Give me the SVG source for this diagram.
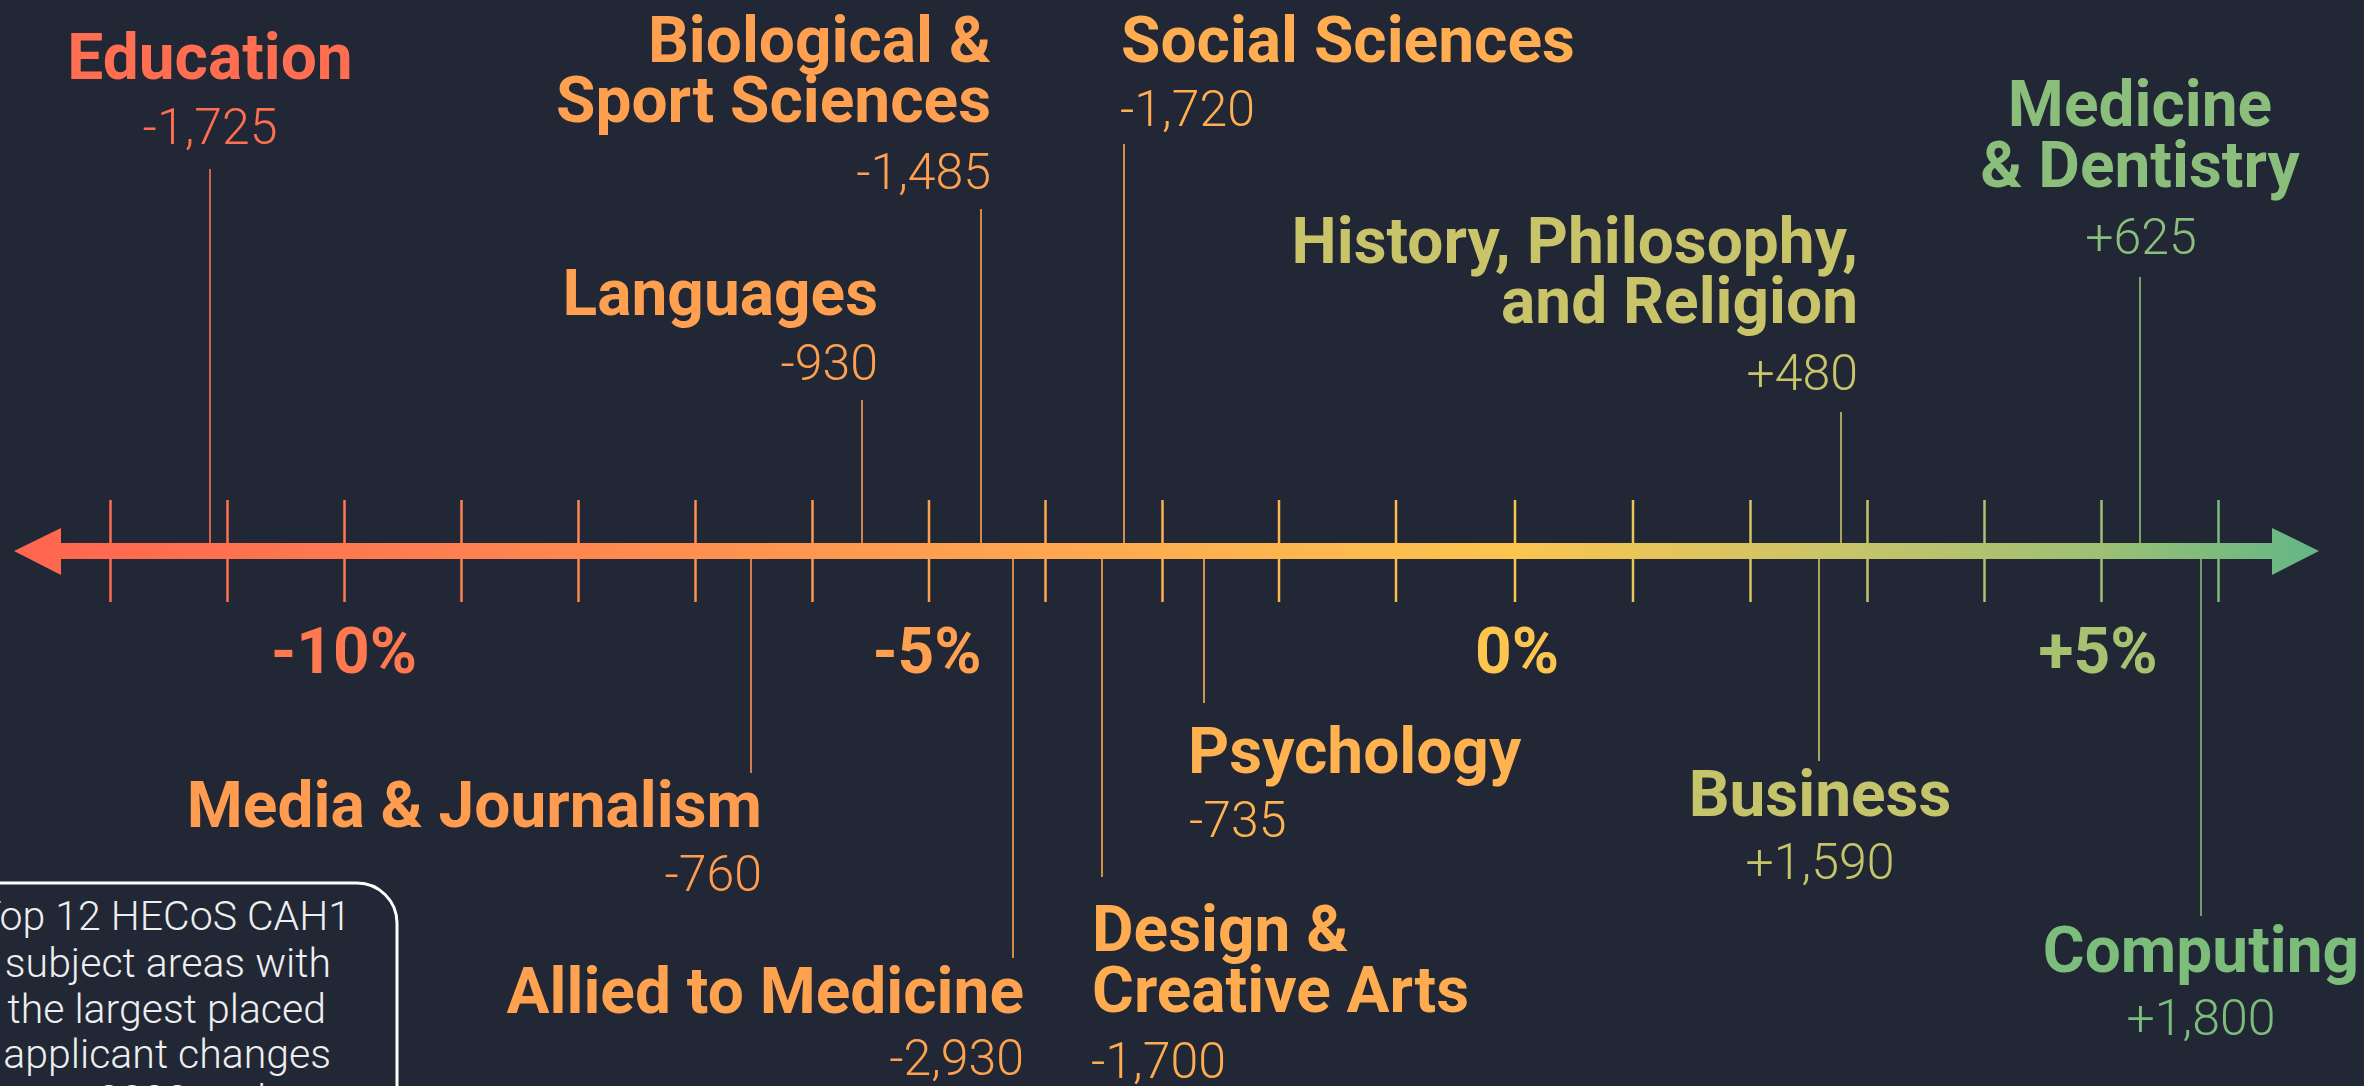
<svg xmlns="http://www.w3.org/2000/svg" width="2364" height="1086" viewBox="0 0 2364 1086">
  <defs>
    <linearGradient id="axisGrad" gradientUnits="userSpaceOnUse" x1="14" y1="0" x2="2319" y2="0">
      <stop offset="0" stop-color="#FF6550"/>
      <stop offset="0.143" stop-color="#FF7850"/>
      <stop offset="0.397" stop-color="#FF9F50"/>
      <stop offset="0.651" stop-color="#FCC54E"/>
      <stop offset="0.793" stop-color="#C9C46A"/>
      <stop offset="0.905" stop-color="#9DC074"/>
      <stop offset="1" stop-color="#63B685"/>
    </linearGradient>
    <style>
      .lbl { font-family: Roboto, "Liberation Sans", "DejaVu Sans", sans-serif; font-weight: 700; font-size: 64px; }
      .val { font-family: Roboto, "Liberation Sans", "DejaVu Sans", sans-serif; font-weight: 300; font-size: 50px; }
      .pct { font-family: Roboto, "Liberation Sans", "DejaVu Sans", sans-serif; font-weight: 700; font-size: 64px; text-anchor: middle; }
      .legend { font-family: Roboto, "Liberation Sans", "DejaVu Sans", sans-serif; font-weight: 300; font-size: 41px; fill: #EEEEEE; text-anchor: end; }
      .tick { stroke: url(#axisGrad); stroke-width: 2.5; }
      .lead { stroke: url(#axisGrad); stroke-width: 1.6; fill: none; }
      .mid { text-anchor: middle; }
      .end { text-anchor: end; }
      .start { text-anchor: start; }
    </style>
  </defs>

  <rect x="0" y="0" width="2364" height="1086" fill="#212735"/>

  <!-- Axis -->
  <g id="axis">
    <rect x="60" y="543" width="2213" height="16" fill="url(#axisGrad)"/>
    <polygon points="14,551 61,528 61,575" fill="url(#axisGrad)"/>
    <polygon points="2319,551 2272,528 2272,575" fill="url(#axisGrad)"/>
    <g id="ticks">
      <line class="tick" x1="110.5" y1="500" x2="110.5" y2="602"/>
      <line class="tick" x1="227.5" y1="500" x2="227.5" y2="602"/>
      <line class="tick" x1="344.5" y1="500" x2="344.5" y2="602"/>
      <line class="tick" x1="461.5" y1="500" x2="461.5" y2="602"/>
      <line class="tick" x1="578.5" y1="500" x2="578.5" y2="602"/>
      <line class="tick" x1="695.5" y1="500" x2="695.5" y2="602"/>
      <line class="tick" x1="812.5" y1="500" x2="812.5" y2="602"/>
      <line class="tick" x1="929" y1="500" x2="929" y2="602"/>
      <line class="tick" x1="1045.5" y1="500" x2="1045.5" y2="602"/>
      <line class="tick" x1="1162.5" y1="500" x2="1162.5" y2="602"/>
      <line class="tick" x1="1279" y1="500" x2="1279" y2="602"/>
      <line class="tick" x1="1396" y1="500" x2="1396" y2="602"/>
      <line class="tick" x1="1515" y1="500" x2="1515" y2="602"/>
      <line class="tick" x1="1633" y1="500" x2="1633" y2="602"/>
      <line class="tick" x1="1750.5" y1="500" x2="1750.5" y2="602"/>
      <line class="tick" x1="1867.5" y1="500" x2="1867.5" y2="602"/>
      <line class="tick" x1="1984.5" y1="500" x2="1984.5" y2="602"/>
      <line class="tick" x1="2101.5" y1="500" x2="2101.5" y2="602"/>
      <line class="tick" x1="2218.5" y1="500" x2="2218.5" y2="602"/>
    </g>
    <g id="percent-labels">
      <text class="pct" x="344" y="673" fill="#FF7850">-10%</text>
      <text class="pct" x="927" y="673" fill="#FF9F50">-5%</text>
      <text class="pct" x="1517" y="673" fill="#FCC54E">0%</text>
      <text class="pct" x="2098" y="673" fill="#A6C271">+5%</text>
    </g>
  </g>

  <!-- Connectors (leader lines) -->
  <g id="connectors">
    <line class="lead" x1="210" y1="169" x2="210" y2="543"/>
    <line class="lead" x1="981" y1="209" x2="981" y2="543"/>
    <line class="lead" x1="862" y1="400" x2="862" y2="543"/>
    <line class="lead" x1="1124" y1="144" x2="1124" y2="543"/>
    <line class="lead" x1="1841" y1="412" x2="1841" y2="543"/>
    <line class="lead" x1="2140" y1="277" x2="2140" y2="543"/>
    <line class="lead" x1="751" y1="559" x2="751" y2="773"/>
    <line class="lead" x1="1013" y1="559" x2="1013" y2="958"/>
    <line class="lead" x1="1102" y1="559" x2="1102" y2="877"/>
    <line class="lead" x1="1204" y1="559" x2="1204" y2="703"/>
    <line class="lead" x1="1819" y1="559" x2="1819" y2="761"/>
    <line class="lead" x1="2201" y1="559" x2="2201" y2="916"/>
  </g>

  <!-- Nodes -->
  <g id="education" fill="#FF6E50">
    <text class="lbl mid" x="210" y="79">Education</text>
    <text class="val mid" x="210" y="144">-1,725</text>
  </g>

  <g id="biological-sport-sciences" fill="#FFA050">
    <text class="lbl end" x="991" y="62">Biological &amp;</text>
    <text class="lbl end" x="991" y="122">Sport Sciences</text>
    <text class="val end" x="991" y="189">-1,485</text>
  </g>

  <g id="languages" fill="#FFA050">
    <text class="lbl end" x="878" y="315">Languages</text>
    <text class="val end" x="878" y="380">-930</text>
  </g>

  <g id="social-sciences" fill="#FFAD50">
    <text class="lbl start" x="1121" y="62">Social Sciences</text>
    <text class="val start" x="1120" y="126">-1,720</text>
  </g>

  <g id="history-philosophy-religion" fill="#C9C46A">
    <text class="lbl end" x="1858" y="263">History, Philosophy,</text>
    <text class="lbl end" x="1858" y="323">and Religion</text>
    <text class="val end" x="1858" y="390">+480</text>
  </g>

  <g id="medicine-dentistry" fill="#8ABE7A">
    <text class="lbl mid" x="2140" y="126">Medicine</text>
    <text class="lbl mid" x="2140" y="187">&amp; Dentistry</text>
    <text class="val mid" x="2141" y="254">+625</text>
  </g>

  <g id="media-journalism" fill="#FF9C50">
    <text class="lbl end" x="762" y="827">Media &amp; Journalism</text>
    <text class="val end" x="762" y="891">-760</text>
  </g>

  <g id="allied-to-medicine" fill="#FFA250">
    <text class="lbl end" x="1024" y="1013">Allied to Medicine</text>
    <text class="val end" x="1024" y="1075">-2,930</text>
  </g>

  <g id="design-creative-arts" fill="#FFAB50">
    <text class="lbl start" x="1092" y="951">Design &amp;</text>
    <text class="lbl start" x="1092" y="1012">Creative Arts</text>
    <text class="val start" x="1091" y="1078">-1,700</text>
  </g>

  <g id="psychology" fill="#FFB24F">
    <text class="lbl start" x="1188" y="773">Psychology</text>
    <text class="val start" x="1189" y="837">-735</text>
  </g>

  <g id="business" fill="#C6C46A">
    <text class="lbl mid" x="1820" y="816">Business</text>
    <text class="val mid" x="1820" y="879">+1,590</text>
  </g>

  <g id="computing" fill="#7DBD7C">
    <text class="lbl mid" x="2201" y="972">Computing</text>
    <text class="val mid" x="2201" y="1035">+1,800</text>
  </g>

  <!-- Legend box -->
  <g id="legend">
    <rect x="-60" y="883" width="457" height="260" rx="40" ry="40" fill="#212735" stroke="#FFFFFF" stroke-width="3"/>
    <text class="legend" x="351" y="930">Top 12 HECoS CAH1</text>
    <text class="legend" x="331" y="977">subject areas with</text>
    <text class="legend" x="326" y="1023">the largest placed</text>
    <text class="legend" x="331" y="1068">applicant changes</text>
    <text class="legend" x="266" y="1114">2023 and</text>
  </g>
</svg>
